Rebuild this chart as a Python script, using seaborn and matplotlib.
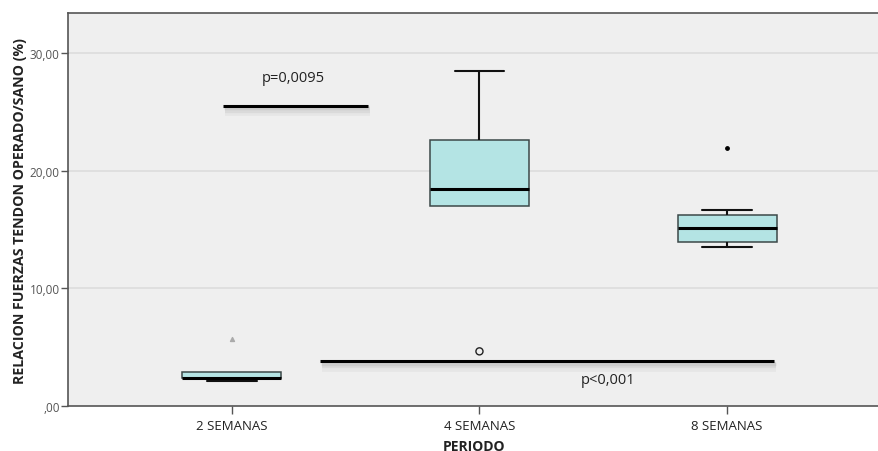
import numpy as np
import pandas as pd
import matplotlib
matplotlib.use("Agg")
import matplotlib.pyplot as plt
import matplotlib.patheffects as pe
from matplotlib.ticker import FuncFormatter
from matplotlib.cbook import boxplot_stats
import seaborn as sns

# ---- data ----
periodos = ["2 SEMANAS", "4 SEMANAS", "8 SEMANAS"]
valores_2 = [2.12, 2.37, 2.43, 2.93, 5.71]
valores_4 = [4.66, 16.99, 18.43, 22.61, 28.41]
valores_8 = [13.51, 13.75, 13.96, 14.55, 15.10, 15.65, 16.20, 16.62, 21.88]
y_ticks = [0, 10, 20, 30]

# significance annotations
sig_texts = ["p=0,0095", "p<0,001"]
sig_y = [25.5, 3.82]
sig_x0 = [-0.035, 0.355]
sig_x1 = [0.548, 2.19]
sig_text_x = [0.25, 1.52]
sig_text_y = [27.9, 2.3]

grupos = [valores_2, valores_4, valores_8]
df = pd.DataFrame({
    "PERIODO": (["2 SEMANAS"] * len(valores_2) + ["4 SEMANAS"] * len(valores_4)
                + ["8 SEMANAS"] * len(valores_8)),
    "valor": valores_2 + valores_4 + valores_8,
})

sns.set_theme(style="white")
plt.rcParams["font.family"] = ["Open Sans", "DejaVu Sans"]

fig = plt.figure(figsize=(8.79, 4.52), dpi=100)
ax = fig.add_axes([0.0774, 0.0989, 0.9226, 0.8701])
ax.set_facecolor("#efefef")

for yv in y_ticks[1:]:
    ax.axhline(yv, color="#dcdcdc", lw=1.2, zorder=0)

edge = "#3c4848"
n_before = len(ax.lines)
sns.boxplot(data=df, x="PERIODO", y="valor", order=periodos, ax=ax,
            width=0.4, color="#b4e4e4", saturation=1, showfliers=False,
            whis=1.5,
            boxprops=dict(edgecolor=edge, linewidth=1.1),
            whiskerprops=dict(color="#111111", linewidth=1.5),
            capprops=dict(color="#111111", linewidth=1.5),
            medianprops=dict(color="#000000", linewidth=2.2))

# hide caps of zero-length whiskers (SPSS draws none there)
stats = [boxplot_stats(np.array(v), whis=1.5)[0] for v in grupos]
for ln in ax.lines[n_before:]:
    xd = np.asarray(ln.get_xdata(), float)
    yd = np.asarray(ln.get_ydata(), float)
    if len(xd) == 2 and np.isclose(yd[0], yd[1]):
        i = int(round(xd.mean()))
        st = stats[i]
        span = abs(xd[1] - xd[0])
        if span < 0.35:  # cap, not median
            if (np.isclose(yd[0], st["whislo"]) and np.isclose(st["whislo"], st["q1"])) or \
               (np.isclose(yd[0], st["whishi"]) and np.isclose(st["whishi"], st["q3"])):
                ln.set_visible(False)

# outliers computed from the data, drawn per group with SPSS-like markers
flier_styles = [dict(marker="^", s=8, color="#aaaaaa", edgecolor="#aaaaaa"),
                dict(marker="o", s=26, facecolor="none", edgecolor="#222222", linewidth=1),
                dict(marker="o", s=6, color="#000000", edgecolor="#000000")]
for i, st in enumerate(stats):
    fl = st["fliers"]
    if len(fl):
        ax.scatter([i] * len(fl), fl, zorder=5, **flier_styles[i])

# significance lines with soft shadow
shadow = [pe.SimpleLineShadow(offset=(1.5, -4), shadow_color="#000000", alpha=0.035, linewidth=7),
          pe.SimpleLineShadow(offset=(1.5, -3), shadow_color="#000000", alpha=0.05, linewidth=4.5),
          pe.SimpleLineShadow(offset=(1, -2), shadow_color="#000000", alpha=0.06, linewidth=2.5),
          pe.Normal()]
for x0, x1, yv, t, tx, ty in zip(sig_x0, sig_x1, sig_y, sig_texts, sig_text_x, sig_text_y):
    ax.plot([x0, x1], [yv, yv], color="#000000", lw=2.2, solid_capstyle="butt",
            path_effects=shadow, zorder=4)
    ax.text(tx, ty, t, ha="center", va="center", fontsize=10.5, color="#222222")

ax.set_xlim(-0.661, 2.613)
ax.set_ylim(0, 33.36)
ax.set_yticks(y_ticks)
ax.yaxis.set_major_formatter(FuncFormatter(
    lambda v, p: ",00" if v == 0 else f"{v:.2f}".replace(".", ",")))

for s in ["left", "bottom", "top"]:
    ax.spines[s].set_visible(True)
    ax.spines[s].set_color("#555555")
    ax.spines[s].set_linewidth(1.2)
ax.spines["right"].set_visible(False)

ax.tick_params(axis="y", which="major", direction="out", length=5, width=1,
               color="#555555", labelsize=8.5, labelcolor="#555555", pad=1, left=True)
ax.tick_params(axis="x", which="major", direction="out", length=6, width=1,
               color="#555555", labelsize=9.5, labelcolor="#222222", pad=3, bottom=True)

ax.set_xlabel("PERIODO", fontsize=10, fontweight="bold", color="#222222", labelpad=5)
ax.set_ylabel("RELACION FUERZAS TENDON OPERADO/SANO (%)", fontsize=10.2,
              fontweight="bold", color="#222222", labelpad=2)

fig.savefig("out.png", dpi=100)
